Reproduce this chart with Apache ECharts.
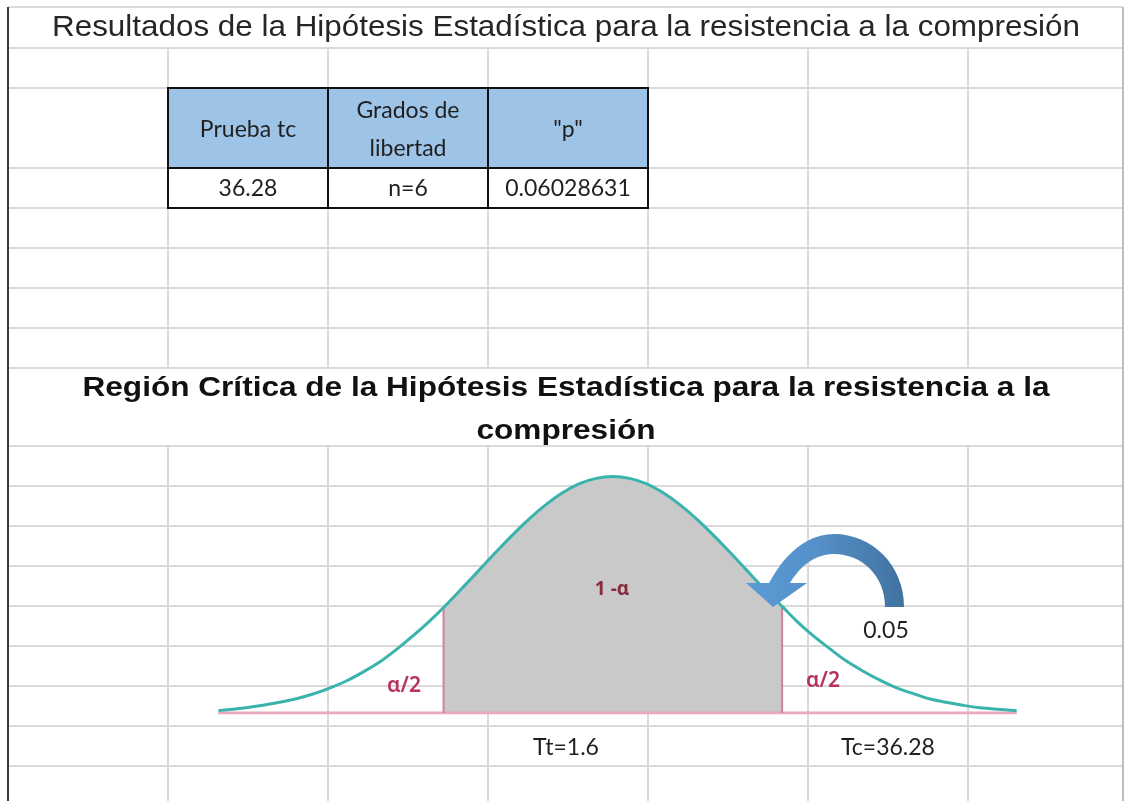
<!DOCTYPE html>
<html>
<head>
<meta charset="utf-8">
<script src="https://cdn.jsdelivr.net/npm/echarts@6/dist/echarts.min.js"></script>
<style>
  html, body { margin: 0; padding: 0; background: #fff; }
  #chartmain { width: 1125px; height: 801px; }
</style>
</head>
<body>
<div id="chartmain"></div>
<script>
// datos
var tituloHoja = 'Resultados de la Hipótesis Estadística para la resistencia a la compresión';
var tituloGrafico = ['Región Crítica de la Hipótesis Estadística para la resistencia a la', 'compresión'];
var cabeceras = [['Prueba tc'], ['Grados de', 'libertad'], ['"p"']];
var valores = ['36.28', 'n=6', '0.06028631'];

// curva normal (eje x en unidades t, eje y densidad)
var curvaX = [-2.96, -2.75, -2.625, -2.5, -2.375, -2.25, -2.125, -2, -1.875, -1.75, -1.625, -1.5, -1.375, -1.27,
              -1.125, -1, -0.875, -0.75, -0.625, -0.5, -0.375, -0.25, -0.125, 0,
              0.125, 0.25, 0.375, 0.5, 0.625, 0.75, 0.875, 1, 1.125, 1.27,
              1.375, 1.5, 1.625, 1.75, 1.875, 2, 2.125, 2.25, 2.375, 2.5, 2.625, 2.75, 3.03];
var curvaY = [0.004, 0.009, 0.013, 0.018, 0.024, 0.032, 0.042, 0.054, 0.069, 0.086, 0.107, 0.130, 0.155, 0.178,
              0.212, 0.242, 0.272, 0.301, 0.328, 0.352, 0.372, 0.387, 0.396, 0.399,
              0.396, 0.387, 0.372, 0.352, 0.328, 0.301, 0.272, 0.242, 0.212, 0.180,
              0.156, 0.131, 0.109, 0.088, 0.071, 0.056, 0.043, 0.033, 0.024, 0.018, 0.013, 0.009, 0.004];
var corteIzq = -1.27;
var corteDer = 1.27;
var etiquetas = { centro: '1 -α', cola: 'α/2', flecha: '0.05', tt: 'Tt=1.6', tc: 'Tc=36.28' };

var curva = [];
var zonaGris = [];
for (var i = 0; i < curvaX.length; i++) {
  curva.push([curvaX[i], curvaY[i]]);
  if (curvaX[i] >= corteIzq && curvaX[i] <= corteDer) {
    zonaGris.push([curvaX[i], curvaY[i]]);
  }
}
var alturaIzq = curvaY[curvaX.indexOf(corteIzq)];
var alturaDer = curvaY[curvaX.indexOf(corteDer)];

// medir texto para ajustar el ancho como en la hoja
var ctx = document.createElement('canvas').getContext('2d');
function escala(texto, fuente, ancho) {
  ctx.font = fuente;
  return ancho / ctx.measureText(texto).width;
}

// puntos de una curva bezier cubica (para dibujar la flecha)
function bezier(p0, p1, p2, p3, n) {
  var pts = [];
  for (var j = 0; j <= n; j++) {
    var t = j / n, u = 1 - t;
    pts.push([
      u * u * u * p0[0] + 3 * u * u * t * p1[0] + 3 * u * t * t * p2[0] + t * t * t * p3[0],
      u * u * u * p0[1] + 3 * u * u * t * p1[1] + 3 * u * t * t * p2[1] + t * t * t * p3[1]
    ]);
  }
  return pts;
}

var lineaGrid = '#dadada';
var g = [];
var filas = [7, 48, 88, 168, 208, 248, 288, 328, 368, 446, 486, 526, 566, 606, 646, 686, 726, 766];
var columnas = [168, 328, 488, 648, 808, 968];
filas.forEach(function (y) {
  g.push({ type: 'line', z: 0, shape: { x1: 8, y1: y, x2: 1123, y2: y },
    style: { stroke: lineaGrid, lineWidth: 2 } });
});
columnas.forEach(function (x) {
  g.push({ type: 'line', z: 0, shape: { x1: x, y1: 48, x2: x, y2: 368 },
    style: { stroke: lineaGrid, lineWidth: 2 } });
  g.push({ type: 'line', z: 0, shape: { x1: x, y1: 446, x2: x, y2: 801 },
    style: { stroke: lineaGrid, lineWidth: 2 } });
});
g.push({ type: 'line', z: 1, shape: { x1: 1123, y1: 7, x2: 1123, y2: 801 },
  style: { stroke: '#bdbdbd', lineWidth: 2 } });
g.push({ type: 'line', z: 1, shape: { x1: 8, y1: 7, x2: 8, y2: 801 },
  style: { stroke: '#3a3a3a', lineWidth: 2 } });

// titulo de la hoja
var f1 = '30px "Liberation Sans"';
g.push({ type: 'text', z: 50, x: 566, y: 28, scaleX: escala(tituloHoja, f1, 1028),
  style: { text: tituloHoja, x: 0, y: 0, font: f1, fill: '#262626', align: 'center', verticalAlign: 'middle' } });

// tabla
var colX = [168, 328, 488, 648];
g.push({ type: 'rect', z: 20, shape: { x: 168, y: 88, width: 480, height: 80 }, style: { fill: '#9dc3e6' } });
g.push({ type: 'rect', z: 20, shape: { x: 168, y: 168, width: 480, height: 40 }, style: { fill: '#ffffff' } });
g.push({ type: 'rect', z: 21, shape: { x: 168, y: 88, width: 480, height: 120 },
  style: { fill: null, stroke: '#111', lineWidth: 2 } });
g.push({ type: 'line', z: 21, shape: { x1: 168, y1: 168, x2: 648, y2: 168 }, style: { stroke: '#111', lineWidth: 2 } });
[328, 488].forEach(function (x) {
  g.push({ type: 'line', z: 21, shape: { x1: x, y1: 88, x2: x, y2: 208 }, style: { stroke: '#111', lineWidth: 2 } });
});
var fTabla = '23px Lato';
for (var c = 0; c < 3; c++) {
  var cx = (colX[c] + colX[c + 1]) / 2;
  var lineas = cabeceras[c];
  for (var k = 0; k < lineas.length; k++) {
    var cy = lineas.length === 1 ? 130 : 111 + k * 38;
    g.push({ type: 'text', z: 22, x: cx, y: cy,
      style: { text: lineas[k], font: fTabla, fill: '#1f1f1f', align: 'center', verticalAlign: 'middle' } });
  }
  g.push({ type: 'text', z: 22, x: cx, y: 189,
    style: { text: valores[c], font: fTabla, fill: '#1f1f1f', align: 'center', verticalAlign: 'middle' } });
}

// titulo del grafico
var f2 = 'bold 27px "Liberation Sans"';
var s2 = escala(tituloGrafico[0], f2, 967);
g.push({ type: 'text', z: 50, x: 566, y: 389, scaleX: s2,
  style: { text: tituloGrafico[0], x: 0, y: 0, font: f2, fill: '#111', align: 'center', verticalAlign: 'middle' } });
g.push({ type: 'text', z: 50, x: 566, y: 432, scaleX: s2,
  style: { text: tituloGrafico[1], x: 0, y: 0, font: f2, fill: '#111', align: 'center', verticalAlign: 'middle' } });

// etiquetas de la curva
g.push({ type: 'text', z: 50, x: 612, y: 590,
  style: { text: etiquetas.centro, font: 'bold 19px "Noto Sans"', fill: '#8b2a3a', align: 'center', verticalAlign: 'middle' } });
g.push({ type: 'text', z: 50, x: 404, y: 686,
  style: { text: etiquetas.cola, font: '600 21px "Noto Sans"', fill: '#b8325e', align: 'center', verticalAlign: 'middle' } });
g.push({ type: 'text', z: 50, x: 823, y: 681,
  style: { text: etiquetas.cola, font: '600 21px "Noto Sans"', fill: '#b8325e', align: 'center', verticalAlign: 'middle' } });
g.push({ type: 'text', z: 50, x: 886, y: 631,
  style: { text: etiquetas.flecha, font: '23px Lato', fill: '#1f1f1f', align: 'center', verticalAlign: 'middle' } });
g.push({ type: 'text', z: 50, x: 566, y: 748,
  style: { text: etiquetas.tt, font: '23px Lato', fill: '#1f1f1f', align: 'center', verticalAlign: 'middle' } });
g.push({ type: 'text', z: 50, x: 888, y: 748,
  style: { text: etiquetas.tc, font: '23px Lato', fill: '#1f1f1f', align: 'center', verticalAlign: 'middle' } });

// flecha curva
var contorno = []
  .concat(bezier([904, 607], [904, 565], [872, 534], [834, 534], 16))
  .concat(bezier([834, 534], [806, 534], [784, 555], [769, 583], 12))
  .concat([[746, 583], [773, 607], [807, 583], [790, 583]])
  .concat(bezier([790, 583], [800, 566], [815, 554], [834, 554], 12))
  .concat(bezier([834, 554], [861, 554], [885, 575], [885, 607], 16));
g.push({ type: 'polygon', z: 60,
  shape: { points: contorno },
  style: { fill: { type: 'linear', x: 0, y: 0, x2: 1, y2: 0, colorStops: [
    { offset: 0, color: '#5b9bd5' }, { offset: 0.45, color: '#5590c8' }, { offset: 1, color: '#41729f' }] } } });

var option = {
  animation: false,
  backgroundColor: '#ffffff',
  grid: { left: 213, right: 99, top: 476, bottom: 88 },
  xAxis: { type: 'value', min: -3, max: 3.1, show: false },
  yAxis: { type: 'value', min: 0, max: 0.4, show: false },
  graphic: g,
  series: [
    { type: 'line', data: zonaGris, smooth: 0.3, symbol: 'none', z: 2,
      lineStyle: { width: 0 }, areaStyle: { color: '#c9c9c9', opacity: 1 } },
    { type: 'line', data: [[curvaX[0], 0], [curvaX[curvaX.length - 1], 0]], symbol: 'none', z: 3,
      lineStyle: { color: '#e8a9bb', width: 3 } },
    { type: 'line', data: [[corteIzq, 0], [corteIzq, alturaIzq]], symbol: 'none', z: 3,
      lineStyle: { color: '#d47f9c', width: 2 } },
    { type: 'line', data: [[corteDer, 0], [corteDer, alturaDer]], symbol: 'none', z: 3,
      lineStyle: { color: '#d47f9c', width: 2 } },
    { type: 'line', data: curva, smooth: 0.3, symbol: 'none', z: 4,
      lineStyle: { color: '#3bb3ad', width: 3 } }
  ]
};
var myChart = echarts.init(document.getElementById('chartmain'));
myChart.setOption(option);
</script>
</body>
</html>
